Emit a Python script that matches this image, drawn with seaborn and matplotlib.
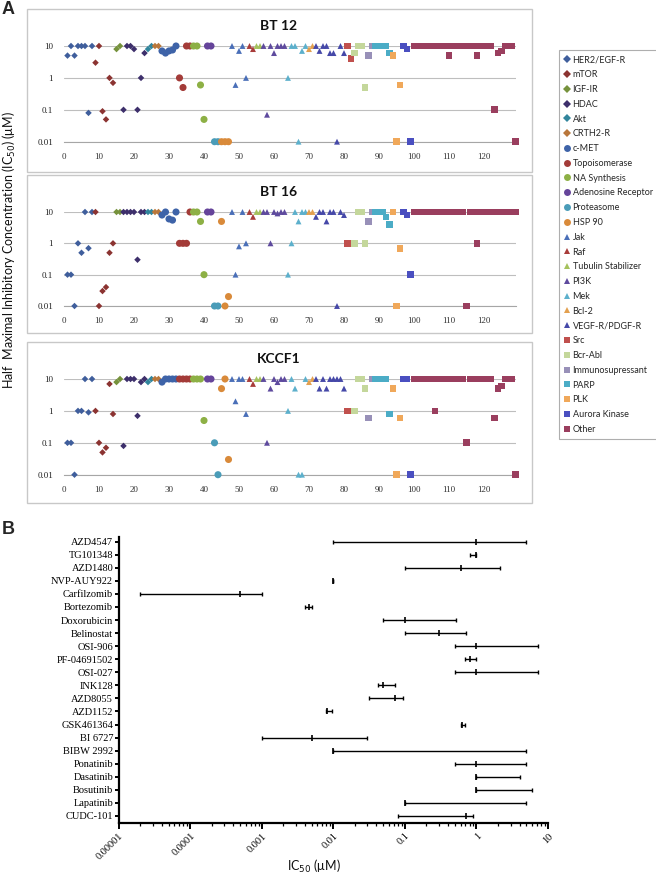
import numpy as np
import pandas as pd
import matplotlib
matplotlib.use("Agg")
import matplotlib.pyplot as plt
import seaborn as sns
from matplotlib.lines import Line2D
from matplotlib.patches import Rectangle
from matplotlib.ticker import LogLocator, NullFormatter

# ---------------- data: panel A ----------------
classes = ["HER2/EGF-R", "mTOR", "IGF-IR", "HDAC", "Akt", "CRTH2-R", "c-MET",
           "Topoisomerase", "NA Synthesis", "Adenosine Receptor", "Proteasome",
           "HSP 90", "Jak", "Raf", "Tubulin Stabilizer", "PI3K", "Mek", "Bcl-2",
           "VEGF-R/PDGF-R", "Src", "Bcr-Abl", "Immunosupressant", "PARP", "PLK",
           "Aurora Kinase", "Other"]
class_counts = [8, 6, 2, 7, 2, 2, 5, 4, 4, 2, 2, 3, 5, 2, 2, 7, 6, 2, 9, 2, 4, 2, 5, 3, 3, 30]

bt12 = ([5, 10, 5, 10, 10, 10, 0.08, 10] +
        [3, 10, 0.09, 0.05, 1, 0.7] +
        [8, 10] +
        [0.1, 10, 10, 8, 0.1, 1, 6] +
        [8, 10] + [10, 10] +
        [7, 6, 7, 7.5, 10] +
        [1, 0.5, 10, 10] +
        [10, 10, 0.6, 0.05] +
        [10, 10] + [0.01, 0.01] + [0.01, 0.01, 0.01] +
        [10, 0.6, 7, 10, 1] + [10, 8] + [10, 10] +
        [10, 0.07, 10, 6, 10, 10, 10] +
        [1, 10, 10, 0.01, 7, 10] + [8, 10] +
        [10, 7, 10, 10, 6, 6, 0.01, 10, 6] +
        [10, 4] + [6, 10, 10, 0.5] + [5, 10] +
        [10, 10, 10, 10, 6] + [5, 0.01, 0.6] + [10, 8, 0.01] +
        [10] * 10 + [5] + [10] * 7 + [5] + [10] * 4 + [0.1, 6, 7] + [10] * 3 + [0.01])

bt16 = ([0.1, 0.1, 0.01, 1, 0.5, 10, 0.7, 10] +
        [10, 0.01, 0.03, 0.04, 0.5, 1] +
        [10, 10] +
        [10, 10, 10, 10, 0.3, 10, 10] +
        [10, 10] + [10, 10] +
        [8, 10, 6, 5.5, 10] +
        [1, 1, 1, 10] +
        [10, 10, 5, 0.1] +
        [10, 10] + [0.01, 0.01] + [5, 0.01, 0.02] +
        [10, 0.1, 0.8, 10, 1] + [10, 7] + [10, 10] +
        [10, 10, 1, 10, 9, 10, 10] +
        [0.1, 1, 10, 5, 10, 10] + [10, 10] +
        [7, 10, 10, 5, 10, 10, 0.01, 10, 8] +
        [1, 1] + [1, 10, 10, 1] + [5, 10] +
        [10, 10, 10, 7, 4] + [10, 0.01, 0.7] + [10, 8, 0.1] +
        [10] * 15 + [0.01] + [10] * 2 + [1] + [10] * 11)

kccf1 = ([0.1, 0.1, 0.01, 1, 1, 10, 0.9, 10] +
         [1, 0.1, 0.05, 0.07, 7, 0.8] +
         [8, 10] +
         [0.08, 10, 10, 10, 0.7, 8, 10] +
         [8, 10] + [10, 10] +
         [8, 10, 10, 10, 10] +
         [10, 10, 10, 10] +
         [10, 10, 10, 0.5] +
         [10, 10] + [0.1, 0.01] + [5, 10, 0.03] +
         [10, 2, 10, 10, 0.8] + [10, 7] + [10, 10] +
         [10, 0.1, 5, 10, 8, 10, 10] +
         [1, 10, 5, 0.01, 0.01, 10] + [8, 10] +
         [10, 5, 10, 5, 10, 10, 10, 10, 5] +
         [1, 1] + [1, 10, 10, 5] + [0.6, 10] +
         [10, 10, 10, 10, 0.8] + [5, 0.01, 0.6] + [10, 10, 0.01] +
         [10] * 6 + [1] + [10] * 8 + [0.1] + [10] * 7 + [0.6, 5, 6] + [10] * 3 + [0.01])

cell_lines = ["BT 12", "BT 16", "KCCF1"]

# ---------------- data: panel B ----------------
drugs = ["AZD4547", "TG101348", "AZD1480", "NVP-AUY922", "Carfilzomib", "Bortezomib",
         "Doxorubicin", "Belinostat", "OSI-906", "PF-04691502", "OSI-027", "INK128",
         "AZD8055", "AZD1152", "GSK461364", "BI 6727", "BIBW 2992", "Ponatinib",
         "Dasatinib", "Bosutinib", "Lapatinib", "CUDC-101"]
ic50_mid = [1, 1, 0.6, 0.01, 5e-4, 0.0045, 0.1, 0.3, 1, 0.8, 1, 0.05,
            0.072, 0.0082, 0.62, 0.005, 0.01, 1, 1, 1, 0.1, 0.72]
ic50_low = [0.01, 0.8, 0.1, 0.01, 2e-5, 0.004, 0.05, 0.1, 0.5, 0.7, 0.5, 0.042,
            0.031, 0.008, 0.6, 0.001, 0.01, 0.5, 1, 1, 0.1, 0.08]
ic50_high = [5, 1, 2.1, 0.01, 1e-3, 0.005, 0.51, 0.72, 7.2, 1.0, 7.2, 0.072,
             0.093, 0.0095, 0.7, 0.03, 5, 5, 4, 6, 5, 0.9]
b_ticks = [1e-5, 1e-4, 1e-3, 1e-2, 1e-1, 1, 10]
b_ticklabels = ["0.00001", "0.0001", "0.001", "0.01", "0.1", "1", "10"]

# ---------------- styles ----------------
class_colors = ["#3F5E9C", "#8B3331", "#76923C", "#3D2F6B", "#31859C", "#B9773B",
                "#3E63A8", "#A33B38", "#8DB045", "#65449A", "#4A9CB8", "#D98A3A",
                "#4A6FB8", "#A83C3A", "#A5C25D", "#5E4A9E", "#5CB0CC", "#E3A04F",
                "#4548A8", "#C0504D", "#C4D79B", "#9890B8", "#4BACC6", "#F0A85A",
                "#4A4FC0", "#9A3E5E"]
class_shapes = ["D"] * 6 + ["o"] * 6 + ["^"] * 7 + ["s"] * 7
shape_size = {"D": 11, "o": 26, "^": 18, "s": 23}
palette = dict(zip(classes, class_colors))

sns.set_theme(style="white")
plt.rcParams["font.family"] = ["Lato", "DejaVu Sans"]

W, H = 656, 876


def frect(x0, y0, x1, y1):
    return [x0 / W, 1 - y1 / H, (x1 - x0) / W, (y1 - y0) / H]


fig = plt.figure(figsize=(W / 100, H / 100), dpi=100)

cls_col = np.repeat(classes, class_counts)
shape_col = np.repeat(class_shapes, class_counts)
compound = np.arange(1, len(cls_col) + 1)

boxes = [(27, 9, 532, 172), (27, 175, 532, 333), (27, 342, 532, 503)]
axes_px = [(46, 141.7), (212, 306), (379, 474.7)]
title_y = [26, 192, 359]
values = [bt12, bt16, kccf1]

serif = ["Liberation Serif", "DejaVu Serif"]

for name, vals, box, (ytop, ybot), ty in zip(cell_lines, values, boxes, axes_px, title_y):
    bx0, by0, bx1, by1 = box
    fig.add_artist(Rectangle((bx0 / W, 1 - by1 / H), (bx1 - bx0) / W, (by1 - by0) / H,
                             transform=fig.transFigure, fill=False,
                             edgecolor="#C8C8C8", linewidth=1.0))
    ax = fig.add_axes(frect(64, ytop, 64 + 129 * 3.5, ybot))
    df = pd.DataFrame({"compound": compound, "ic50": vals, "cls": cls_col, "shape": shape_col})
    for shp in ["D", "o", "^", "s"]:
        sub = df[df["shape"] == shp]
        sns.scatterplot(data=sub, x="compound", y="ic50", hue="cls", palette=palette,
                        marker=shp, s=shape_size[shp], linewidth=0, legend=False,
                        ax=ax, clip_on=False, zorder=3)
    ax.set_yscale("log")
    ax.set_ylim(0.01, 10)
    ax.set_xlim(0, 129)
    ax.set_xlabel("")
    ax.set_ylabel("")
    ax.set_yticks([0.01, 0.1, 1, 10])
    ax.set_yticklabels(["0.01", "0.1", "1", "10"])
    ax.yaxis.set_minor_locator(plt.NullLocator())
    ax.set_xticks(np.arange(0, 121, 10))
    ax.grid(False)
    ax.yaxis.grid(True, color="#BEBEBE", linewidth=0.8)
    ax.set_axisbelow(True)
    for sp in ["top", "left", "right"]:
        ax.spines[sp].set_visible(False)
    ax.spines["bottom"].set_color("#A6A6A6")
    ax.spines["bottom"].set_linewidth(0.8)
    ax.tick_params(axis="y", length=0, pad=8, labelsize=6.5, labelcolor="#222222")
    ax.tick_params(axis="x", length=3, width=0.7, color="#A6A6A6", direction="in",
                   pad=8, labelsize=6.5, labelcolor="#333333")
    for lab in ax.get_xticklabels() + ax.get_yticklabels():
        lab.set_fontfamily(serif)
    fig.text(279 / W, 1 - ty / H, name, ha="center", va="center",
             fontsize=10, fontweight="bold", color="#111111")

# legend
handles = [Line2D([], [], marker=m, color=c, linestyle="", markersize=(4.2 if m == "D" else 5),
                  markeredgewidth=0)
           for m, c in zip(class_shapes, class_colors)]
leg = fig.legend(handles, classes, loc="upper left", bbox_to_anchor=(559 / W, 1 - 50 / H),
                 fontsize=6.5, frameon=True, fancybox=False, handlelength=0.6,
                 handletextpad=0.3, labelspacing=0.64, borderpad=0.6, borderaxespad=0)
leg.get_frame().set_edgecolor("#9A9A9A")
leg.get_frame().set_linewidth(0.8)

fig.text(9 / W, 1 - 250 / H, "Half  Maximal Inhibitory Concentration (IC$_{50}$) (\u03bcM)",
         rotation=90, ha="center", va="center", fontsize=9, color="#111111")
fig.text(8 / W, 1 - 10 / H, "A", ha="center", va="center", fontsize=13, fontweight="bold",
         fontfamily=["Liberation Sans", "DejaVu Sans"])
fig.text(8 / W, 1 - 530 / H, "B", ha="center", va="center", fontsize=13, fontweight="bold",
         fontfamily=["Liberation Sans", "DejaVu Sans"])

# ---------------- panel B ----------------
axb = fig.add_axes(frect(118.7, 536.7, 548, 823))
ypos = np.arange(len(drugs))
mid = np.array(ic50_mid)
lo = np.array(ic50_low)
hi = np.array(ic50_high)
axb.errorbar(mid, ypos, xerr=[mid - lo, hi - mid], fmt="none", ecolor="black",
             elinewidth=1.0, capsize=1.6, capthick=1.0, zorder=2)
sns.scatterplot(x=mid, y=ypos, marker="|", s=22, color="black", linewidth=1.2,
                ax=axb, zorder=3, legend=False)
axb.set_xscale("log")
axb.set_xlim(1e-5, 10)
axb.set_ylim(21.54, -0.38)
axb.set_yticks(ypos)
axb.set_yticklabels(drugs, fontfamily=serif, fontsize=7.5)
axb.set_xticks(b_ticks)
axb.set_xticklabels(b_ticklabels, rotation=45, ha="right", rotation_mode="anchor",
                    fontfamily=serif, fontsize=7.5)
axb.xaxis.set_minor_locator(LogLocator(base=10, subs=np.arange(2, 10), numticks=20))
axb.xaxis.set_minor_formatter(NullFormatter())
axb.grid(False)
for sp in ["top", "right"]:
    axb.spines[sp].set_visible(False)
for sp in ["left", "bottom"]:
    axb.spines[sp].set_color("black")
    axb.spines[sp].set_linewidth(1.6)
axb.tick_params(axis="y", which="major", left=True, length=3, width=1.4, color="black",
                pad=1, labelcolor="black")
axb.tick_params(axis="x", which="major", bottom=True, length=4, width=1.4, color="black",
                pad=2, labelcolor="black")
axb.tick_params(axis="x", which="minor", bottom=True, length=2.2, width=0.9, color="black")
axb.set_xlabel("")
axb.set_ylabel("")
fig.text(314 / W, 1 - 866 / H, "IC$_{50}$ (\u03bcM)", ha="center", va="center",
         fontsize=9, color="#111111")

fig.savefig("out.png", dpi=100)
